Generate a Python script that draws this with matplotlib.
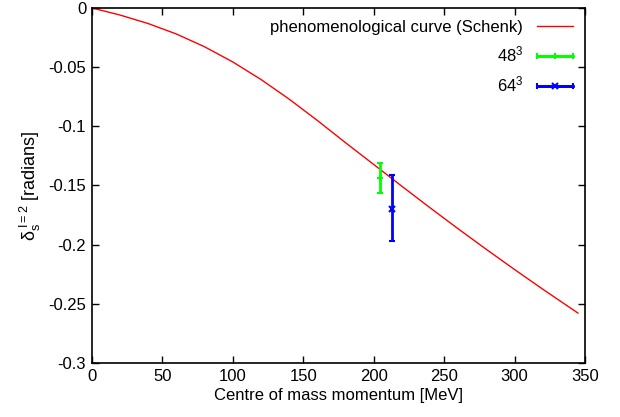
import numpy as np
import matplotlib.pyplot as plt
from matplotlib.legend_handler import HandlerErrorbar

plt.rcParams['font.family'] = ['Liberation Sans', 'DejaVu Sans']
plt.rcParams['mathtext.fontset'] = 'custom'
plt.rcParams['mathtext.rm'] = 'Liberation Sans'
plt.rcParams['mathtext.it'] = 'Liberation Sans'

# phenomenological curve (Schenk)
curve_x = [0, 20, 40, 60, 80, 100, 120, 140, 160, 180, 200, 220, 240, 260, 280, 300, 320, 345]
curve_y = [0, -0.0060, -0.0132, -0.0220, -0.0328, -0.0456, -0.0604, -0.0770, -0.0950, -0.1138,
           -0.1322, -0.1506, -0.1688, -0.1866, -0.2040, -0.2210, -0.2376, -0.2578]

# lattice points
p48_x = [204.7]
p48_y = [-0.1434]
p48_err = [[0.0129], [0.0127]]  # lower, upper

p64_x = [213.2]
p64_y = [-0.1696]
p64_err = [[0.0275], [0.0285]]

fig = plt.figure(figsize=(6.2, 4.17), dpi=100)
ax = fig.add_axes([0.148, 0.1295, 0.7955, 0.8515])

ax.plot(curve_x, curve_y, color='#ff0000', lw=1.0, label='phenomenological curve (Schenk)')

ax.errorbar(p48_x, p48_y, yerr=p48_err, color='#00ff00', marker='+', ms=5, mew=1.5,
            lw=2, capsize=2.5, capthick=1.5, ls='none')
ax.errorbar(p64_x, p64_y, yerr=p64_err, color='#0000ff', marker='x', ms=4, mew=1.5,
            lw=2, capsize=2.5, capthick=1.5, ls='none')

# proxies so the legend shows horizontal bars like gnuplot
ax.errorbar([np.nan], [np.nan], xerr=[1], color='#00ff00', marker='+', ms=5, mew=1.5,
            lw=2, capsize=2.5, capthick=1.5, label=r'$48^3$')
ax.errorbar([np.nan], [np.nan], xerr=[1], color='#0000ff', marker='x', ms=4, mew=1.5,
            lw=2, capsize=2.5, capthick=1.5, label=r'$64^3$')

ax.set_xlim(0, 350)
ax.set_ylim(-0.3, 0)
ax.set_xticks(np.arange(0, 351, 50))
ax.set_yticks([0, -0.05, -0.1, -0.15, -0.2, -0.25, -0.3])
ax.set_yticklabels(['0', '-0.05', '-0.1', '-0.15', '-0.2', '-0.25', '-0.3'])
ax.tick_params(direction='in', length=5, width=1, top=True, right=True, labelsize=12, pad=4)
for s in ax.spines.values():
    s.set_linewidth(1.2)

ax.set_xlabel('Centre of mass momentum [MeV]', fontsize=12, labelpad=3)
ax.set_ylabel(r'$\delta_s^{\,I=2}$ [radians]', fontsize=13, labelpad=4)

handles, labels = ax.get_legend_handles_labels()
ax.legend(handles, labels, loc='upper right', frameon=False, markerfirst=False,
          fontsize=12, handlelength=2.2, handletextpad=0.8, labelspacing=0.6,
          borderaxespad=0.3, handler_map={type(handles[1]): HandlerErrorbar(xerr_size=1.1)})

fig.savefig('out.png', dpi=100)
